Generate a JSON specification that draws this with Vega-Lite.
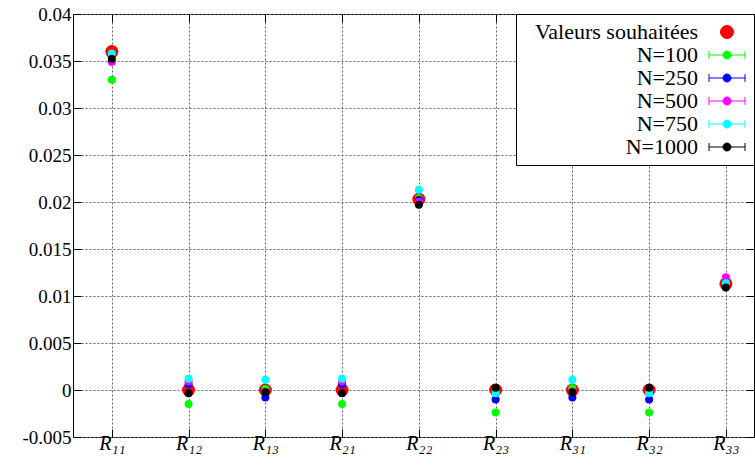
{
  "$schema": "https://vega.github.io/schema/vega-lite/v6.json",
  "width": 681,
  "height": 423,
  "autosize": {"type": "none"},
  "padding": {"left": 73, "top": 14, "right": 1, "bottom": 31},
  "background": "white",
  "config": {
    "view": {"stroke": "black", "strokeWidth": 1},
    "axis": {
      "labelFont": "Liberation Serif",
      "labelFontSize": 19,
      "labelColor": "black",
      "domain": false,
      "tickColor": "black",
      "tickSize": -8,
      "gridColor": "#666",
      "gridDash": [2, 2],
      "title": null
    },
    "legend": {
      "orient": "top-right",
      "offset": 0,
      "labelFont": "Liberation Serif",
      "labelFontSize": 22,
      "labelColor": "black",
      "labelAlign": "right",
      "labelLimit": 400,
      "labelOffset": -40,
      "symbolOffset": 193,
      "symbolSize": 400,
      "symbolOpacity": 1,
      "symbolStrokeWidth": 1,
      "strokeColor": "black",
      "fillColor": "white",
      "cornerRadius": 0,
      "padding": 7,
      "rowPadding": 1
    }
  },
  "data": {
    "values": [
      {"param": "R₁₁", "series": "Valeurs souhaitées", "value": 0.036},
      {"param": "R₁₂", "series": "Valeurs souhaitées", "value": 0},
      {"param": "R₁₃", "series": "Valeurs souhaitées", "value": 0},
      {"param": "R₂₁", "series": "Valeurs souhaitées", "value": 0},
      {"param": "R₂₂", "series": "Valeurs souhaitées", "value": 0.0203},
      {"param": "R₂₃", "series": "Valeurs souhaitées", "value": 0},
      {"param": "R₃₁", "series": "Valeurs souhaitées", "value": 0},
      {"param": "R₃₂", "series": "Valeurs souhaitées", "value": 0},
      {"param": "R₃₃", "series": "Valeurs souhaitées", "value": 0.0113},
      {"param": "R₁₁", "series": "N=100", "value": 0.033},
      {"param": "R₁₂", "series": "N=100", "value": -0.0015},
      {"param": "R₁₃", "series": "N=100", "value": 0.0001},
      {"param": "R₂₁", "series": "N=100", "value": -0.0015},
      {"param": "R₂₂", "series": "N=100", "value": 0.0204},
      {"param": "R₂₃", "series": "N=100", "value": -0.0024},
      {"param": "R₃₁", "series": "N=100", "value": 0.0002},
      {"param": "R₃₂", "series": "N=100", "value": -0.0024},
      {"param": "R₃₃", "series": "N=100", "value": 0.0115},
      {"param": "R₁₁", "series": "N=250", "value": 0.0356},
      {"param": "R₁₂", "series": "N=250", "value": 0.0006},
      {"param": "R₁₃", "series": "N=250", "value": -0.0008},
      {"param": "R₂₁", "series": "N=250", "value": 0.0006},
      {"param": "R₂₂", "series": "N=250", "value": 0.0202},
      {"param": "R₂₃", "series": "N=250", "value": -0.001},
      {"param": "R₃₁", "series": "N=250", "value": -0.0008},
      {"param": "R₃₂", "series": "N=250", "value": -0.001},
      {"param": "R₃₃", "series": "N=250", "value": 0.0114},
      {"param": "R₁₁", "series": "N=500", "value": 0.0349},
      {"param": "R₁₂", "series": "N=500", "value": 0.0009},
      {"param": "R₁₃", "series": "N=500", "value": -0.0002},
      {"param": "R₂₁", "series": "N=500", "value": 0.0009},
      {"param": "R₂₂", "series": "N=500", "value": 0.02},
      {"param": "R₂₃", "series": "N=500", "value": -0.0002},
      {"param": "R₃₁", "series": "N=500", "value": -0.0002},
      {"param": "R₃₂", "series": "N=500", "value": -0.0002},
      {"param": "R₃₃", "series": "N=500", "value": 0.012},
      {"param": "R₁₁", "series": "N=750", "value": 0.0358},
      {"param": "R₁₂", "series": "N=750", "value": 0.0012},
      {"param": "R₁₃", "series": "N=750", "value": 0.0011},
      {"param": "R₂₁", "series": "N=750", "value": 0.0012},
      {"param": "R₂₂", "series": "N=750", "value": 0.0213},
      {"param": "R₂₃", "series": "N=750", "value": -0.00035},
      {"param": "R₃₁", "series": "N=750", "value": 0.0011},
      {"param": "R₃₂", "series": "N=750", "value": -0.00035},
      {"param": "R₃₃", "series": "N=750", "value": 0.01135},
      {"param": "R₁₁", "series": "N=1000", "value": 0.0352},
      {"param": "R₁₂", "series": "N=1000", "value": -0.00035},
      {"param": "R₁₃", "series": "N=1000", "value": -0.00025},
      {"param": "R₂₁", "series": "N=1000", "value": -0.00035},
      {"param": "R₂₂", "series": "N=1000", "value": 0.0197},
      {"param": "R₂₃", "series": "N=1000", "value": 0.00025},
      {"param": "R₃₁", "series": "N=1000", "value": -0.00025},
      {"param": "R₃₂", "series": "N=1000", "value": 0.00025},
      {"param": "R₃₃", "series": "N=1000", "value": 0.0109}
    ]
  },
  "resolve": {"axis": {"x": "independent", "y": "independent"}},
  "layer": [
    {
      "transform": [{"filter": "datum.series === 'Valeurs souhaitées'"}],
      "mark": {"type": "point", "filled": true, "opacity": 1, "size": 169, "shape": "circle"},
      "encoding": {
        "x": {
          "field": "param", "type": "nominal", "sort": null,
          "scale": {"type": "point", "padding": 0.436, "align": 0.58},
          "axis": {"orient": "top", "labels": false, "grid": false}
        },
        "y": {
          "field": "value", "type": "quantitative",
          "scale": {"domain": [-0.005, 0.04], "nice": false, "zero": false},
          "axis": {"orient": "right", "labels": false, "grid": false,
                   "values": [-0.005, 0, 0.005, 0.01, 0.015, 0.02, 0.025, 0.03, 0.035, 0.04]}
        },
        "fill": {
          "field": "series", "type": "nominal",
          "scale": {
            "domain": ["Valeurs souhaitées", "N=100", "N=250", "N=500", "N=750", "N=1000"],
            "range": ["#ff0000", "#00ff00", "#0000ff", "#ff00ff", "#00ffff", "#000000"]
          },
          "legend": {"title": null}
        }
      }
    },
    {
      "transform": [{"filter": "datum.series !== 'Valeurs souhaitées'"}],
      "mark": {"type": "point", "filled": true, "opacity": 1, "size": 64, "shape": "circle"},
      "encoding": {
        "x": {
          "field": "param", "type": "nominal", "sort": null,
          "axis": {"orient": "bottom", "labelAngle": 0, "labelFontStyle": "italic", "labelFontSize": 20, "labelPadding": 4, "grid": true}
        },
        "y": {
          "field": "value", "type": "quantitative",
          "axis": {"orient": "left", "grid": true, "labelPadding": 10,
                   "values": [-0.005, 0, 0.005, 0.01, 0.015, 0.02, 0.025, 0.03, 0.035, 0.04],
                   "labelExpr": "replace(format(datum.value, '.3~f'), '−', '-')"}
        },
        "fill": {"field": "series", "type": "nominal", "legend": {"title": null}}
      }
    },
    {
      "mark": {"type": "point", "filled": false, "opacity": 0, "size": 64},
      "encoding": {
        "x": {"field": "param", "type": "nominal", "sort": null, "axis": null},
        "y": {"field": "value", "type": "quantitative", "axis": null},
        "stroke": {
          "field": "series", "type": "nominal",
          "scale": {
            "domain": ["Valeurs souhaitées", "N=100", "N=250", "N=500", "N=750", "N=1000"],
            "range": ["#ff0000", "#00ff00", "#0000ff", "#ff00ff", "#00ffff", "#000000"]
          },
          "legend": {"title": null}
        },
        "shape": {
          "field": "series", "type": "nominal",
          "scale": {
            "domain": ["Valeurs souhaitées", "N=100", "N=250", "N=500", "N=750", "N=1000"],
            "range": [
              "M0.65,0A0.65,0.65 0 1,1 -0.65,0A0.65,0.65 0 1,1 0.65,0Z",
              "M-1.8,0H1.8M-1.8,-0.4V0.4M1.8,-0.4V0.4M0.4,0A0.4,0.4 0 1,1 -0.4,0A0.4,0.4 0 1,1 0.4,0Z",
              "M-1.8,0H1.8M-1.8,-0.4V0.4M1.8,-0.4V0.4M0.4,0A0.4,0.4 0 1,1 -0.4,0A0.4,0.4 0 1,1 0.4,0Z",
              "M-1.8,0H1.8M-1.8,-0.4V0.4M1.8,-0.4V0.4M0.4,0A0.4,0.4 0 1,1 -0.4,0A0.4,0.4 0 1,1 0.4,0Z",
              "M-1.8,0H1.8M-1.8,-0.4V0.4M1.8,-0.4V0.4M0.4,0A0.4,0.4 0 1,1 -0.4,0A0.4,0.4 0 1,1 0.4,0Z",
              "M-1.8,0H1.8M-1.8,-0.4V0.4M1.8,-0.4V0.4M0.4,0A0.4,0.4 0 1,1 -0.4,0A0.4,0.4 0 1,1 0.4,0Z"
            ]
          },
          "legend": {"title": null}
        }
      }
    }
  ]
}
